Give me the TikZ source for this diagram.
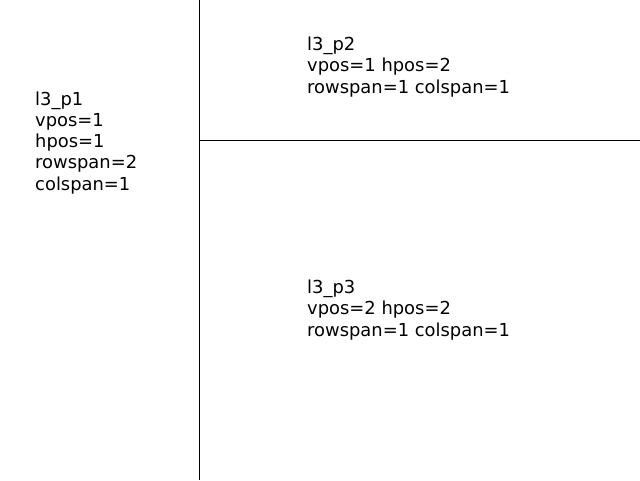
\documentclass[tikz,border=0pt]{standalone}
\usepackage{fontspec}
\setmainfont{DejaVu Sans}
\begin{document}
\begin{tikzpicture}[x=1pt,y=-1pt,
  lbl/.style={anchor=base west,inner sep=0pt,align=left,
    font=\fontsize{17.9}{21.1}\selectfont},
  rule/.style={draw=black,line width=1pt}]
\useasboundingbox (0,0) rectangle (640,480);
\coordinate (vt) at (199.5,0);
\coordinate (vb) at (199.5,480);
\coordinate (hl) at (199.5,140.5);
\coordinate (hr) at (640,140.5);
\draw[rule] (vt) -- (vb);
\draw[rule] (hl) -- (hr);
\node[lbl] (p1) at (35,190) {l3\_p1\\vpos=1\\hpos=1\\rowspan=2\\colspan=1};
\node[lbl] (p2) at (307,93) {l3\_p2\\vpos=1 hpos=2\\rowspan=1 colspan=1};
\node[lbl] (p3) at (307,336) {l3\_p3\\vpos=2 hpos=2\\rowspan=1 colspan=1};
\end{tikzpicture}
\end{document}
